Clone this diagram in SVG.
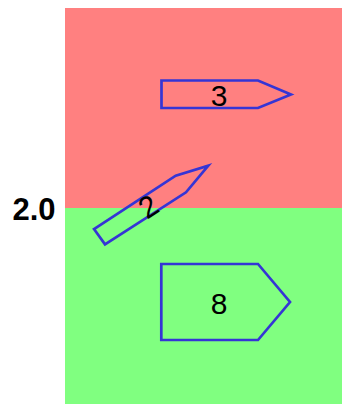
<svg xmlns="http://www.w3.org/2000/svg" width="342" height="404" viewBox="0 0 342 404">
<style>
.node{fill:none;stroke:#3535d5;stroke-width:2.7;stroke-linejoin:miter}
.lbl{font-family:"Liberation Sans",Arial,sans-serif;font-size:30px;fill:#000;text-anchor:middle}
.axis{font-family:"Liberation Sans",Arial,sans-serif;font-size:31px;font-weight:bold;fill:#000;text-anchor:end}
</style>
<g id="bands">
<rect x="65" y="8" width="277" height="200" fill="#ff8080"/>
<rect x="65" y="208" width="277" height="196" fill="#80ff80"/>
</g>
<text class="axis" x="55.5" y="220">2.0</text>
<g id="connectors"/>
<g id="node-3">
<polygon class="node" points="161.5,80.5 258,80.5 291,94.5 258,108 161.5,108"/>
<text class="lbl" x="219" y="106">3</text>
</g>
<g id="node-2">
<polygon class="node" points="94,229 105,244.3 186,192.3 208.3,165.7 175.7,175.7"/>
<text class="lbl" x="148" y="217" transform="rotate(-33 148 206)">2</text>
</g>
<g id="node-8">
<polygon class="node" points="161.3,264 258,264 290,302 258,340 161.3,340"/>
<text class="lbl" x="219" y="314">8</text>
</g>
</svg>
